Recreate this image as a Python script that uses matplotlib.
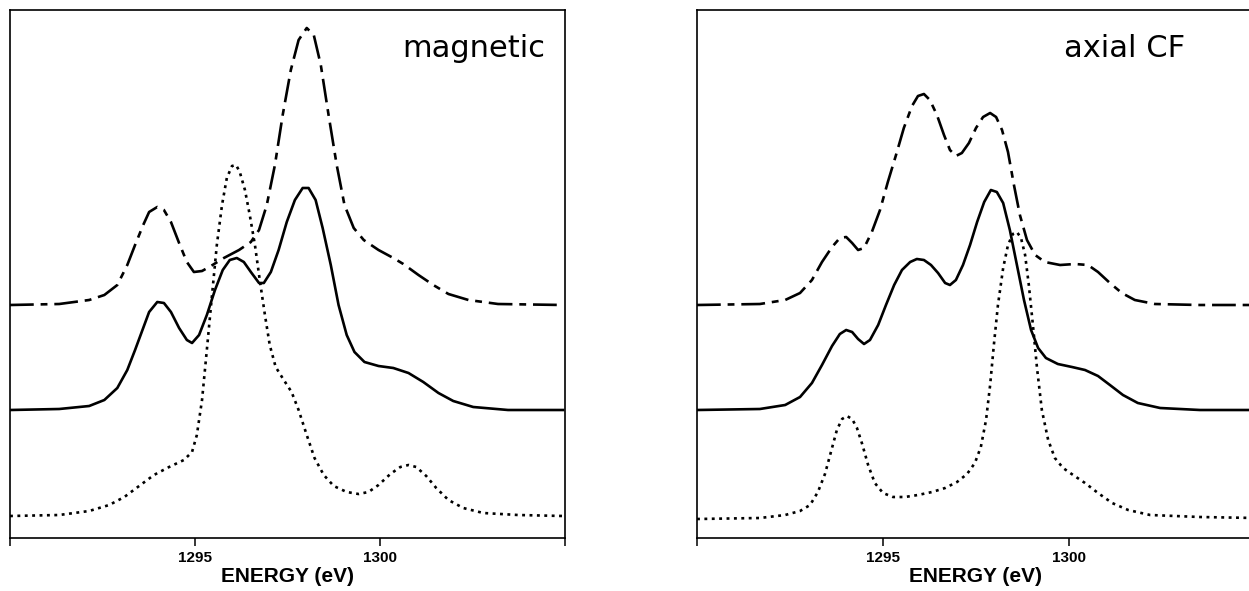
import matplotlib
matplotlib.use("Agg")
import matplotlib.pyplot as plt

# Spectra (energy in eV, intensity in arbitrary units)
# Left panel: "magnetic"
mag_dashdot_e = [1290.0, 1291.33, 1292.14, 1292.55, 1292.90, 1293.17, 1293.38, 1293.60, 1293.76, 1293.98,
                 1294.16, 1294.35, 1294.57, 1294.78, 1294.97, 1295.19, 1295.43, 1295.78, 1296.19, 1296.51,
                 1296.73, 1296.94, 1297.16, 1297.37, 1297.59, 1297.80, 1298.02, 1298.21, 1298.40, 1298.61,
                 1298.83, 1299.04, 1299.29, 1299.56, 1299.96, 1300.36, 1300.63, 1301.04, 1301.44, 1301.85,
                 1302.39, 1303.19, 1304.95]
mag_dashdot_i = [0, 1, 5, 10, 20, 40, 60, 80, 93, 98,
                 95, 83, 62, 43, 33, 34, 39, 47, 55, 63,
                 75, 100, 140, 190, 235, 265, 277, 270, 240, 190,
                 140, 100, 77, 65, 55, 47, 41, 30, 20, 11,
                 5, 1, 0]

mag_solid_e = [1290.0, 1291.33, 1292.14, 1292.55, 1292.90, 1293.17, 1293.38, 1293.60, 1293.76, 1293.98,
               1294.16, 1294.35, 1294.57, 1294.78, 1294.92, 1295.11, 1295.32, 1295.54, 1295.75, 1295.94,
               1296.13, 1296.32, 1296.51, 1296.73, 1296.86, 1297.05, 1297.26, 1297.48, 1297.70, 1297.91,
               1298.07, 1298.26, 1298.45, 1298.67, 1298.88, 1299.10, 1299.31, 1299.58, 1299.96, 1300.36,
               1300.77, 1301.17, 1301.58, 1301.98, 1302.52, 1303.46, 1304.95]
mag_solid_i = [0, 1, 4, 10, 22, 40, 60, 82, 98, 108,
               107, 98, 82, 70, 67, 75, 95, 120, 140, 150,
               152, 148, 138, 127, 127, 138, 160, 188, 210, 222,
               222, 210, 182, 145, 105, 75, 58, 48, 44, 42,
               37, 28, 17, 9, 3, 0, 0]

mag_dotted_e = [1290.0, 1291.33, 1292.14, 1292.68, 1293.09, 1293.49, 1293.89, 1294.30, 1294.70, 1294.92,
                1295.05, 1295.19, 1295.32, 1295.46, 1295.59, 1295.73, 1295.86, 1296.00, 1296.11, 1296.21,
                1296.35, 1296.48, 1296.62, 1296.75, 1296.89, 1297.02, 1297.18, 1297.40, 1297.61, 1297.80,
                1298.02, 1298.23, 1298.48, 1298.75, 1299.10, 1299.42, 1299.69, 1299.96, 1300.28, 1300.55,
                1300.77, 1300.98, 1301.25, 1301.52, 1301.85, 1302.25, 1302.79, 1303.73, 1304.95]
mag_dotted_i = [0, 1, 5, 11, 19, 30, 41, 49, 56, 64,
                81, 116, 166, 221, 271, 311, 338, 350, 351, 344,
                326, 301, 271, 236, 201, 171, 149, 136, 124, 106,
                81, 58, 41, 30, 24, 22, 24, 31, 42, 49,
                51, 49, 40, 28, 16, 8, 3, 1, 0]

# Right panel: "axial CF"
cf_dashdot_e = [1290.0, 1291.69, 1292.37, 1292.77, 1293.09, 1293.36, 1293.63, 1293.84, 1294.01, 1294.17,
                1294.33, 1294.49, 1294.70, 1294.92, 1295.13, 1295.35, 1295.56, 1295.78, 1295.94, 1296.10,
                1296.26, 1296.45, 1296.64, 1296.80, 1296.96, 1297.12, 1297.31, 1297.50, 1297.69, 1297.88,
                1298.04, 1298.20, 1298.36, 1298.52, 1298.68, 1298.87, 1299.09, 1299.35, 1299.76, 1300.16,
                1300.51, 1300.78, 1301.10, 1301.42, 1301.77, 1302.31, 1303.52, 1305.0]
cf_dashdot_i = [0, 1, 5, 12, 25, 43, 58, 67, 68, 62,
                55, 57, 73, 95, 123, 150, 177, 199, 209, 211,
                205, 190, 170, 155, 149, 152, 162, 177, 188, 192,
                188, 175, 153, 120, 90, 65, 50, 43, 40, 41,
                40, 33, 22, 12, 5, 1, 0, 0]

cf_solid_e = [1290.0, 1291.69, 1292.37, 1292.77, 1293.09, 1293.36, 1293.63, 1293.84, 1294.01, 1294.17,
              1294.33, 1294.49, 1294.65, 1294.87, 1295.08, 1295.30, 1295.51, 1295.73, 1295.91, 1296.10,
              1296.29, 1296.48, 1296.67, 1296.80, 1296.96, 1297.15, 1297.34, 1297.53, 1297.72, 1297.90,
              1298.06, 1298.23, 1298.41, 1298.60, 1298.79, 1298.98, 1299.17, 1299.38, 1299.70, 1300.08,
              1300.43, 1300.78, 1301.10, 1301.45, 1301.85, 1302.45, 1303.52, 1305.0]
cf_solid_i = [0, 1, 5, 13, 27, 45, 64, 76, 80, 78,
              71, 66, 70, 85, 105, 125, 140, 148, 151, 150,
              145, 137, 127, 125, 130, 145, 165, 188, 208, 220,
              218, 207, 180, 145, 110, 80, 62, 52, 46, 43,
              40, 34, 25, 15, 7, 2, 0, 0]

cf_dotted_e = [1290.0, 1291.69, 1292.37, 1292.77, 1293.04, 1293.25, 1293.44, 1293.60, 1293.76, 1293.90,
               1294.03, 1294.17, 1294.30, 1294.44, 1294.60, 1294.78, 1295.0, 1295.27, 1295.59, 1295.94,
               1296.32, 1296.67, 1296.99, 1297.26, 1297.47, 1297.63, 1297.77, 1297.88, 1297.98, 1298.09,
               1298.23, 1298.36, 1298.49, 1298.60, 1298.71, 1298.82, 1298.92, 1299.03, 1299.14, 1299.27,
               1299.44, 1299.62, 1299.84, 1300.11, 1300.43, 1300.78, 1301.16, 1301.59, 1302.18, 1303.52,
               1305.0]
cf_dotted_i = [0, 1, 4, 8, 14, 27, 45, 67, 89, 100,
               103, 100, 91, 75, 54, 36, 26, 22, 22, 24,
               27, 31, 37, 45, 56, 72, 99, 134, 174, 214,
               251, 274, 285, 287, 281, 264, 234, 194, 151, 109,
               79, 61, 51, 44, 36, 26, 16, 9, 4, 2,
               1]

# vertical offsets of the stacked curves
offsets_left = {"dashdot": 233, "solid": 128, "dotted": 22}
offsets_right = {"dashdot": 233, "solid": 128, "dotted": 19}

tick_pos = [1290, 1295, 1300, 1305]
tick_lab = ["", "1295", "1300", ""]

W, H = 1249, 591
lw = 1.9
dashdot = (0, (9, 2.6, 2.6, 2.6))
dotted = (0, (1.1, 1.7))


def style_axes(ax, title, title_x):
    ax.set_xlim(1290, 1305)
    ax.set_ylim(0, 528)
    ax.set_yticks([])
    ax.set_xticks(tick_pos)
    ax.set_xticklabels(tick_lab, fontfamily="Liberation Sans", fontweight="bold", fontsize=11)
    ax.tick_params(axis="x", direction="out", length=6, width=1.1, pad=3)
    ax.set_xlabel("ENERGY (eV)", fontfamily="Liberation Sans", fontweight="bold",
                  fontsize=15, labelpad=2)
    for s in ax.spines.values():
        s.set_linewidth(1.2)
    ax.text(title_x, 0.955, title, transform=ax.transAxes, ha="right", va="top",
            fontsize=22, fontfamily="DejaVu Sans")


def draw_stack(ax, curves, offsets):
    styles = {"dashdot": dashdot, "solid": "-", "dotted": dotted}
    for name, (e, i) in curves.items():
        ax.plot(e, [v + offsets[name] for v in i], color="black", lw=lw,
                linestyle=styles[name], solid_joinstyle="round")


fig = plt.figure(figsize=(W / 100, H / 100), dpi=100)
# page margins in pixels of the scan
ax1 = fig.add_axes([10 / W, 53 / H, 555 / W, 528 / H])
ax2 = fig.add_axes([697 / W, 53 / H, 558 / W, 528 / H])

draw_stack(ax1, {"dashdot": (mag_dashdot_e, mag_dashdot_i),
                 "solid": (mag_solid_e, mag_solid_i),
                 "dotted": (mag_dotted_e, mag_dotted_i)}, offsets_left)
style_axes(ax1, "magnetic", 0.965)

draw_stack(ax2, {"dashdot": (cf_dashdot_e, cf_dashdot_i),
                 "solid": (cf_solid_e, cf_solid_i),
                 "dotted": (cf_dotted_e, cf_dotted_i)}, offsets_right)
style_axes(ax2, "axial CF", 0.875)

fig.savefig("out.png", dpi=100, facecolor="white")
